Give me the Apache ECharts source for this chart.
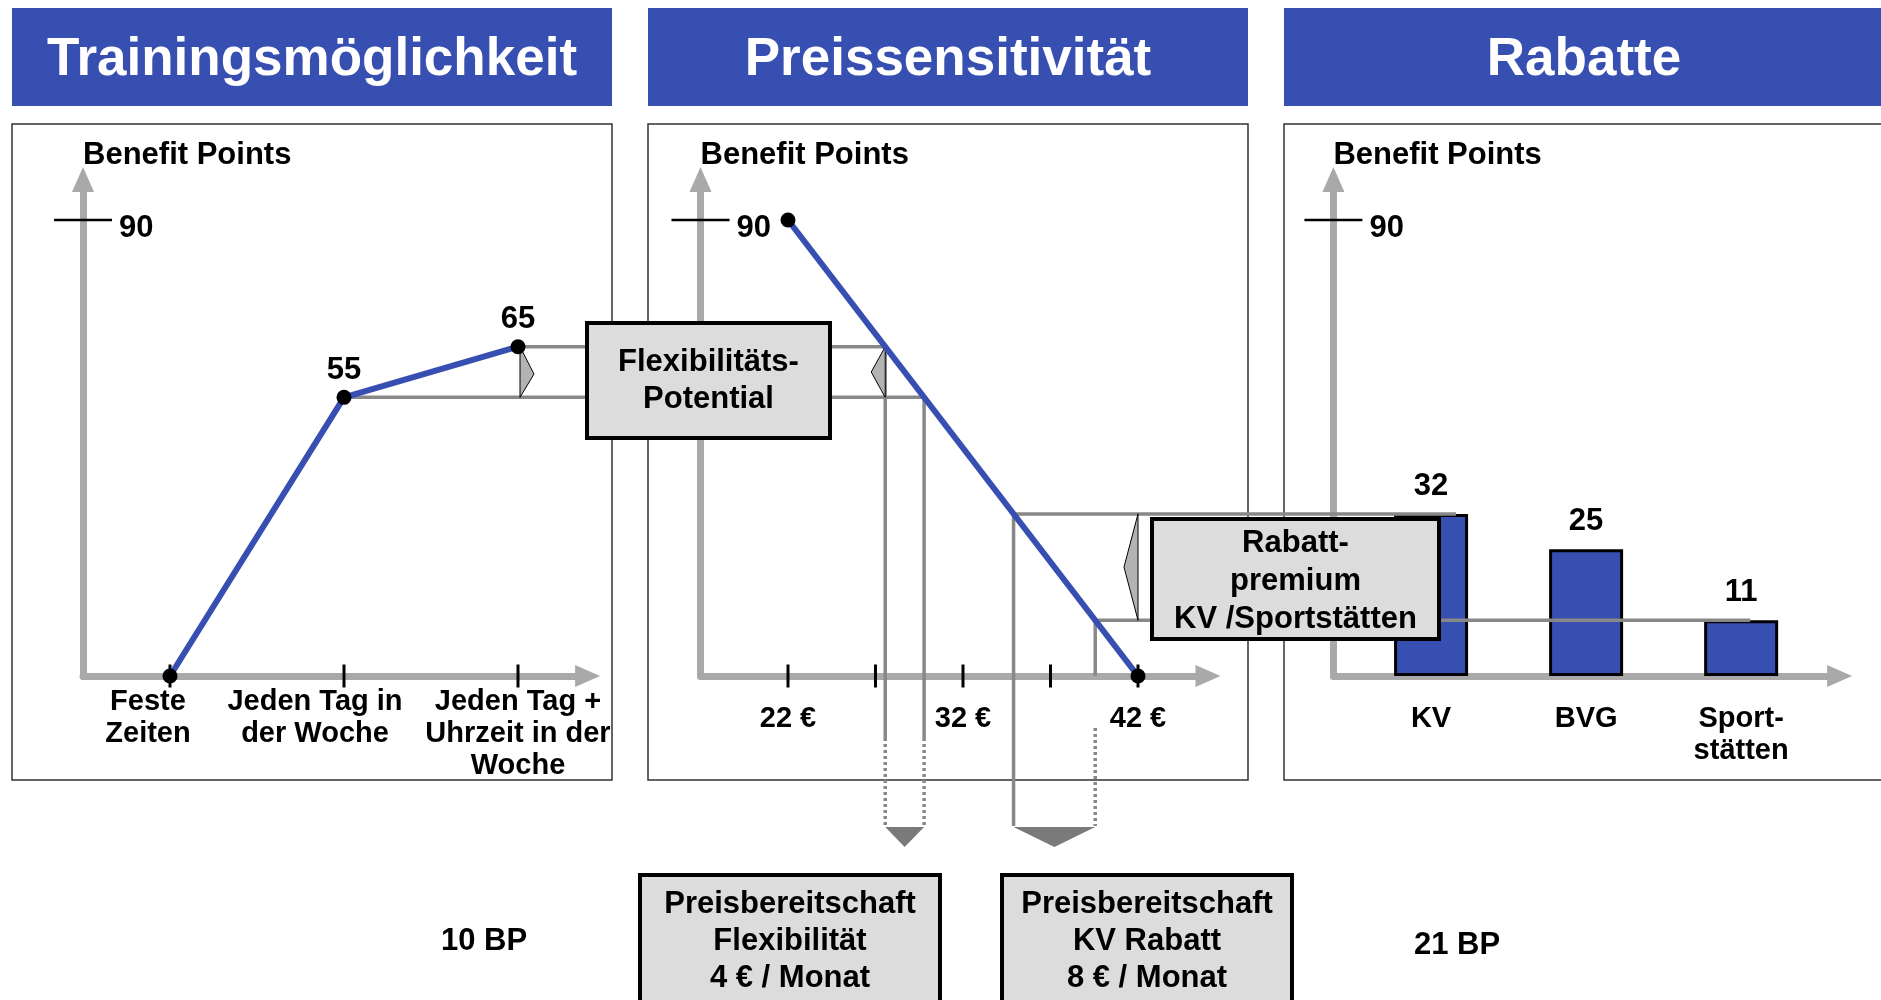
<!DOCTYPE html>
<html>
<head>
<meta charset="utf-8">
<title>Benefit Points</title>
<script src="https://cdn.jsdelivr.net/npm/echarts@6.0.0/dist/echarts.min.js"></script>
<style>
  html, body { margin: 0; padding: 0; background: #fff; }
  #main { width: 1881px; height: 1000px; }
</style>
</head>
<body>
<div id="main"></div>
<script>
// titles
const panelTitles = ['Trainingsmöglichkeit', 'Preissensitivität', 'Rabatte'];
const axisTitle = 'Benefit Points';
const markValue = 90;

// left panel: flexibility
const flexCategories = ['Feste\nZeiten', 'Jeden Tag in\nder Woche', 'Jeden Tag +\nUhrzeit in der\nWoche'];
const flexPoints = [0, 55, 65];

// middle panel: price line
const prices = [22, 42];
const pricePoints = [90, 0];
const priceTicks = [22, 27, 32, 37, 42];
const priceLabels = [22, 32, 42];

// right panel: discounts
const discountCategories = ['KV', 'BVG', 'Sport-\nstätten'];
const discountPoints = [32, 25, 11];

// annotation texts
const flexBoxText = 'Flexibilitäts-\nPotential';
const premiumBoxText = 'Rabatt-\npremium\nKV /Sportstätten';
const willingnessTexts = ['Preisbereitschaft\nFlexibilität\n4 € / Monat', 'Preisbereitschaft\nKV Rabatt\n8 € / Monat'];
const bpNotes = ['10 BP', '21 BP'];

const FONT = '"Liberation Sans", Arial, Helvetica, sans-serif';
const BLUE = '#384fb2';
const AXIS_GRAY = '#a9a9a9';
const LINE_GRAY = '#888888';
const BOX_FILL = '#dcdcdc';
// the left category labels sit a little left of their ticks in the original
const flexLabelShift = [-22, -29, 0];

const chart = echarts.init(document.getElementById('main'));

const xRanges = [[-0.5, 2.4], [17, 46], [-0.63, 2.635]];

function arrowLine() {
    return {
        show: true,
        onZero: false,
        symbol: ['none', 'triangle'],
        symbolSize: [22, 25],
        lineStyle: { color: AXIS_GRAY, width: 7 }
    };
}

function textStyle(size) {
    return { fontFamily: FONT, fontWeight: 'bold', fontSize: size, color: '#000' };
}

function xAxis(i, labelValues, formatter, margin) {
    return {
        type: 'value',
        gridIndex: i,
        min: xRanges[i][0],
        max: xRanges[i][1],
        axisLine: arrowLine(),
        axisTick: { show: false },
        splitLine: { show: false },
        axisLabel: Object.assign({
            show: labelValues.length > 0,
            customValues: labelValues,
            formatter: formatter,
            margin: margin,
            lineHeight: 32,
            hideOverlap: false
        }, textStyle(29))
    };
}

function yAxis(i) {
    return {
        type: 'value',
        gridIndex: i,
        min: 0,
        max: 98,
        name: axisTitle,
        nameLocation: 'end',
        nameGap: 24,
        nameTextStyle: Object.assign({ align: 'left', verticalAlign: 'middle' }, textStyle(31)),
        axisLine: arrowLine(),
        axisTick: { show: false },
        splitLine: { show: false },
        axisLabel: {
            customValues: [markValue],
            inside: true,
            margin: 36,
            formatter: v => '{m|' + v + '}',
            rich: { m: Object.assign({ padding: [16, 0, 0, 0] }, textStyle(31)) }
        }
    };
}

function tickMarks(i, xs) {
    return {
        type: 'scatter',
        xAxisIndex: i,
        yAxisIndex: i,
        symbol: 'rect',
        symbolSize: [3, 23],
        itemStyle: { color: '#000', opacity: 1 },
        silent: true,
        clip: false,
        z: 4,
        data: xs.map(x => [x, 0])
    };
}

function markTick(i) {
    return {
        type: 'scatter',
        xAxisIndex: i,
        yAxisIndex: i,
        symbol: 'rect',
        symbolSize: [58, 2.5],
        itemStyle: { color: '#000', opacity: 1 },
        silent: true,
        clip: false,
        z: 4,
        data: [[xRanges[i][0], markValue]]
    };
}

const option = {
    backgroundColor: '#fff',
    animation: false,
    grid: [
        { left: 83, top: 179.5, width: 504.6, height: 496.5, outerBoundsMode: 'none' },
        { left: 700.5, top: 179.5, width: 507.5, height: 496.5, outerBoundsMode: 'none' },
        { left: 1333.4, top: 179.5, width: 506.2, height: 496.5, outerBoundsMode: 'none' }
    ],
    xAxis: [
        xAxis(0, [], null, 10),
        xAxis(1, priceLabels, v => v + ' €', 27),
        xAxis(2, [0, 1, 2], v => discountCategories[Math.round(v)], 27)
    ],
    yAxis: [yAxis(0), yAxis(1), yAxis(2)],
    series: [
        {
            type: 'line',
            xAxisIndex: 0,
            yAxisIndex: 0,
            data: flexPoints.map((v, i) => [i, v]),
            lineStyle: { color: BLUE, width: 6 },
            symbol: 'circle',
            symbolSize: 15,
            itemStyle: { color: '#000' },
            clip: false,
            z: 10,
            label: Object.assign({
                show: true,
                position: 'top',
                distance: 4,
                formatter: p => p.value[1] ? String(p.value[1]) : ''
            }, textStyle(31))
        },
        // category names of the left panel, written under the axis
        {
            type: 'scatter',
            xAxisIndex: 0,
            yAxisIndex: 0,
            symbolSize: 0,
            silent: true,
            clip: false,
            itemStyle: { opacity: 1 },
            data: flexCategories.map((c, i) => ({
                value: [i, 0],
                name: c,
                label: { offset: [flexLabelShift[i], 0] }
            })),
            label: Object.assign({
                show: true,
                position: 'bottom',
                distance: 10,
                lineHeight: 32,
                align: 'center',
                formatter: p => p.name
            }, textStyle(29))
        },
        tickMarks(0, [0, 1, 2]),
        markTick(0),
        {
            type: 'line',
            xAxisIndex: 1,
            yAxisIndex: 1,
            data: prices.map((p, i) => [p, pricePoints[i]]),
            lineStyle: { color: BLUE, width: 6 },
            symbol: 'circle',
            symbolSize: 15,
            itemStyle: { color: '#000' },
            clip: false,
            z: 10
        },
        tickMarks(1, priceTicks),
        markTick(1),
        {
            type: 'bar',
            xAxisIndex: 2,
            yAxisIndex: 2,
            barWidth: 74,
            data: discountPoints.map((v, i) => [i, v]),
            itemStyle: { color: BLUE, borderColor: '#000', borderWidth: 3 },
            label: Object.assign({ show: true, position: 'top', distance: 12 }, textStyle(31))
        },
        markTick(2)
    ]
};

chart.setOption(option);

// annotations placed through the chart's own scales
const px = (g, x, y) => chart.convertToPixel({ gridIndex: g }, [x, y]);
const priceAt = bp => prices[0] + (prices[1] - prices[0]) * (pricePoints[0] - bp) / (pricePoints[0] - pricePoints[1]);

const p55 = px(0, 1, flexPoints[1]);
const p65 = px(0, 2, flexPoints[2]);
const q65 = px(1, priceAt(flexPoints[2]), flexPoints[2]);
const q55 = px(1, priceAt(flexPoints[1]), flexPoints[1]);
const qKV = px(1, priceAt(discountPoints[0]), discountPoints[0]);
const qSp = px(1, priceAt(discountPoints[2]), discountPoints[2]);
const end42 = px(1, prices[1], 0);
const barKV = px(2, 0, discountPoints[0]);
const barSp = px(2, 2, discountPoints[2]);

const dashTop = 738, dashTopSp = 728, arrowTop = 827, arrowTip = 847;

function seg(x1, y1, x2, y2, dashed) {
    return {
        type: 'line', z: 3, silent: true,
        shape: { x1: x1, y1: y1, x2: x2, y2: y2 },
        style: { stroke: LINE_GRAY, lineWidth: 3.5, lineDash: dashed ? [3, 3] : null }
    };
}
function poly(points, fill, stroke) {
    return {
        type: 'polygon', z: 4, silent: true,
        shape: { points: points },
        style: { fill: fill, stroke: stroke || null, lineWidth: 1 }
    };
}
function box(x, y, w, h, z) {
    return {
        type: 'rect', z: z, silent: true,
        shape: { x: x, y: y, width: w, height: h },
        style: { fill: BOX_FILL, stroke: '#000', lineWidth: 4 }
    };
}
function label(x, y, text, size, fill, lh, z) {
    return {
        type: 'text', z: z || 21, silent: true, x: x, y: y,
        style: {
            text: text, fill: fill || '#000', fontSize: size, fontWeight: 'bold', fontFamily: FONT,
            textAlign: 'center', textVerticalAlign: 'middle', lineHeight: lh || size
        }
    };
}

const graphics = [];

// title banners and panel frames
panelTitles.forEach((t, i) => {
    const x0 = 12 + i * 636;
    graphics.push({
        type: 'rect', z: 1, silent: true,
        shape: { x: x0, y: 8, width: 600, height: 98 },
        style: { fill: BLUE }
    });
    graphics.push(label(x0 + 300, 60, t, 53, '#fff', 53, 2));
    graphics.push({
        type: 'rect', z: 0, silent: true,
        shape: { x: x0, y: 124, width: 600, height: 656 },
        style: { fill: null, stroke: '#333', lineWidth: 1.5 }
    });
});

// flexibility connectors
graphics.push(seg(p65[0], p65[1], q65[0], q65[1]));
graphics.push(seg(p55[0], p55[1], q55[0], q55[1]));
graphics.push(poly([[p65[0] + 2, p65[1]], [p65[0] + 16, (p65[1] + p55[1]) / 2 + 2], [p65[0] + 2, p55[1]]], '#b3b3b3', '#000'));
graphics.push(poly([[q65[0], q65[1]], [q65[0] - 14, (q65[1] + q55[1]) / 2], [q65[0], q55[1]]], '#b3b3b3', '#000'));
[q65, q55].forEach(q => {
    graphics.push(seg(q[0], q[1], q[0], dashTop));
    graphics.push(seg(q[0], dashTop, q[0], arrowTop - 1, true));
});
graphics.push(poly([[q65[0], arrowTop], [q55[0], arrowTop], [(q65[0] + q55[0]) / 2, arrowTip]], '#7a7a7a'));

// discount connectors
graphics.push(seg(qKV[0], qKV[1], barKV[0] + 25, qKV[1]));
graphics.push(seg(qSp[0], qSp[1], barSp[0] + 9, qSp[1]));
graphics.push(poly([[end42[0], qKV[1]], [end42[0] - 14, (qKV[1] + qSp[1]) / 2], [end42[0], qSp[1]]], '#b3b3b3', '#000'));
graphics.push(seg(qKV[0], qKV[1], qKV[0], arrowTop - 1));
graphics.push(seg(qSp[0], qSp[1], qSp[0], end42[1]));
graphics.push(seg(qSp[0], dashTopSp, qSp[0], arrowTop - 1, true));
graphics.push(poly([[qKV[0], arrowTop], [qSp[0], arrowTop], [(qKV[0] + qSp[0]) / 2, arrowTip]], '#7a7a7a'));

// boxes
graphics.push(box(587, 323, 243, 115, 20));
graphics.push(label(708.5, 381, flexBoxText, 31, '#000', 37));
graphics.push(box(1152, 519, 287, 120, 20));
graphics.push(label(1295.5, 581, premiumBoxText, 31, '#000', 38));
graphics.push(box(640, 875, 300, 140, 20));
graphics.push(label(790, 941, willingnessTexts[0], 31, '#000', 37));
graphics.push(box(1002, 875, 290, 140, 20));
graphics.push(label(1147, 941, willingnessTexts[1], 31, '#000', 37));

// totals
graphics.push(label(484, 941, bpNotes[0], 31));
graphics.push(label(1457, 945, bpNotes[1], 31));

chart.setOption({ graphic: graphics });
</script>
</body>
</html>
